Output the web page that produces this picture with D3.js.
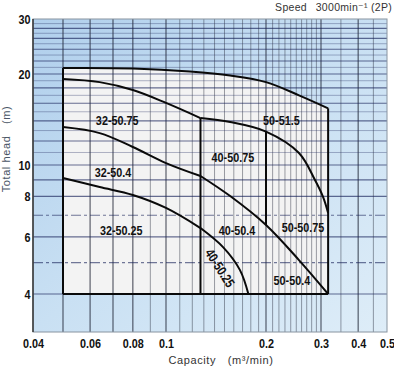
<!DOCTYPE html>
<html><head><meta charset="utf-8">
<script src="https://cdn.jsdelivr.net/npm/d3@7"></script>
<style>
html,body{margin:0;padding:0;background:#fff;}
svg{display:block;}
</style></head>
<body>
<svg id="c" width="394" height="369"></svg>
<script>
// ---- data ----
const xTicks = [0.04, 0.06, 0.08, 0.1, 0.2, 0.3, 0.4, 0.5];
const xTickLabels = ["0.04", "0.06", "0.08", "0.1", "0.2", "0.3", "0.4", "0.5"];
const yTicks = [4, 6, 8, 10, 20, 30];
const xGridMajor = [0.05, 0.06, 0.07, 0.08, 0.1, 0.2, 0.3, 0.4];
const xGridMinor = [0.09, 0.11, 0.12, 0.13, 0.14, 0.15, 0.16, 0.17, 0.18, 0.19,
                    0.21, 0.22, 0.23, 0.24, 0.25, 0.26, 0.27, 0.28, 0.29, 0.35, 0.45];
const yGridSolid = [4, 6, 8, 9, 10, 12, 14, 16, 18, 20, 22, 24, 26, 28];
const yGridLight = [11, 13, 15, 17, 19, 21, 23, 25, 27, 29];
const yGridDashed = [5, 7];

// envelope (50-51.5 top)
const envQ = [0.05, 0.08, 0.118, 0.156, 0.2, 0.255, 0.317];
const envH = [20.9, 20.83, 20.37, 19.77, 18.8, 17.0, 15.4];
// 32-50.75
const c3275Q = [0.05, 0.064, 0.08, 0.1, 0.127];
const c3275H = [19.25, 18.8, 17.7, 16.05, 14.3];
// 40/50-50.75 top
const c4075Q = [0.127, 0.156, 0.2, 0.255, 0.287, 0.305, 0.317];
const c4075H = [14.3, 13.87, 12.9, 10.96, 8.99, 7.96, 7.11];
// 32-50.4
const c324Q = [0.05, 0.064, 0.08, 0.1, 0.127];
const c324H = [13.35, 12.75, 11.47, 10.15, 9.25];
// 40/50-50.4
const c404Q = [0.127, 0.156, 0.2, 0.255, 0.317];
const c404H = [9.25, 8.02, 6.53, 5.09, 4.0];
// 32-50.25
const c3225Q = [0.05, 0.064, 0.08, 0.1, 0.127];
const c3225H = [9.12, 8.55, 8.08, 7.37, 6.39];
// 40-50.25
const c4025Q = [0.127, 0.1485, 0.167, 0.177];
const c4025H = [6.39, 5.58, 4.74, 4.0];

const minHead = 4;
const bounds = [0.05, 0.127, 0.2, 0.317];
const midSplitH = [12.9, 6.53]; // vertical at 0.2 from/to

const labels = [
  {t: "32-50.75", q: 0.072, h: 14.1, r: 0},
  {t: "32-50.4",  q: 0.07,  h: 9.5,  r: 0},
  {t: "32-50.25", q: 0.074, h: 6.3,  r: 0},
  {t: "50-51.5",  q: 0.224, h: 14.1, r: 0},
  {t: "40-50.75", q: 0.159, h: 10.6, r: 0},
  {t: "40-50.4",  q: 0.1636, h: 6.3, r: 0},
  {t: "50-50.75", q: 0.2627, h: 6.44, r: 0},
  {t: "50-50.4",  q: 0.242, h: 4.41, r: 0},
  {t: "40-50.25", q: 0.1455, h: 4.81, r: 57}
];

// ---- scales ----
const x = d3.scaleLog()
  .domain([0.04, 0.05, 0.1, 0.2, 0.3, 0.5])
  .range([33, 63, 166, 266, 321, 387]);
const y = d3.scaleLog()
  .domain([3, 4, 10, 20, 30])
  .range([332, 294, 165, 74, 19]);

const svg = d3.select("#c");
const X0 = x(0.04), X1 = x(0.5), Y0 = y(30), Y1 = y(3);

const defs = svg.append("defs");
const g = defs.append("linearGradient").attr("id","bg")
  .attr("x1","0").attr("y1","0").attr("x2","1").attr("y2","1");
g.append("stop").attr("offset","0").attr("stop-color","#b0cfec");
g.append("stop").attr("offset","0.5").attr("stop-color","#c9e0f3");
g.append("stop").attr("offset","1").attr("stop-color","#deedf8");

svg.append("rect").attr("x",X0).attr("y",Y0).attr("width",X1-X0).attr("height",Y1-Y0)
  .attr("fill","url(#bg)");

const line = d3.line().x(d=>x(d[0])).y(d=>y(d[1])).curve(d3.curveCatmullRom.alpha(0.5));

// region fill
const envPts = envQ.map((q,i)=>[q, envH[i]]);
svg.append("path")
  .attr("d", line(envPts)
     + "L" + x(bounds[3]) + "," + y(minHead) + "L" + x(bounds[0]) + "," + y(minHead) + "Z")
  .attr("fill","#f3f3f3");

// grid
const grid = svg.append("g");
grid.selectAll(".vm").data(xGridMajor).join("line")
  .attr("x1",d=>x(d)).attr("x2",d=>x(d)).attr("y1",Y0).attr("y2",Y1)
  .attr("stroke","rgba(25,30,45,0.7)").attr("stroke-width",1.2);
grid.selectAll(".vn").data(xGridMinor).join("line")
  .attr("x1",d=>x(d)).attr("x2",d=>x(d)).attr("y1",Y0).attr("y2",Y1)
  .attr("stroke","rgba(40,45,60,0.45)").attr("stroke-width",1);
grid.selectAll(".hs").data(yGridSolid).join("line")
  .attr("x1",X0).attr("x2",X1).attr("y1",d=>y(d)).attr("y2",d=>y(d))
  .attr("stroke","rgba(25,35,90,0.65)").attr("stroke-width",1.1);
grid.selectAll(".hl").data(yGridLight).join("line")
  .attr("x1",X0).attr("x2",X1).attr("y1",d=>y(d)).attr("y2",d=>y(d))
  .attr("stroke","rgba(40,50,100,0.35)").attr("stroke-width",1);
grid.selectAll(".hd").data(yGridDashed).join("line")
  .attr("x1",X0).attr("x2",X1).attr("y1",d=>y(d)).attr("y2",d=>y(d))
  .attr("stroke","rgba(25,35,90,0.6)").attr("stroke-width",1.1)
  .attr("stroke-dasharray","10,3,3,3");

// frame
svg.append("rect").attr("x",X0).attr("y",Y0).attr("width",X1-X0).attr("height",Y1-Y0)
  .attr("fill","none").attr("stroke","#8894a0").attr("stroke-width",1);
svg.append("line").attr("x1",X0).attr("x2",X0).attr("y1",Y0).attr("y2",Y1)
  .attr("stroke","#333").attr("stroke-width",1.5);

// curves
const curves = [
  [envQ, envH], [c3275Q, c3275H], [c4075Q, c4075H], [c324Q, c324H],
  [c404Q, c404H], [c3225Q, c3225H], [c4025Q, c4025H]
];
const cg = svg.append("g").attr("fill","none").attr("stroke","#0a0a0a")
  .attr("stroke-width",2).attr("stroke-linejoin","round");
curves.forEach(([qs,hs]) => {
  cg.append("path").attr("d", line(qs.map((q,i)=>[q,hs[i]])));
});
// boundaries
const segs = [
  [[bounds[0], minHead],[bounds[0], envH[0]]],
  [[bounds[1], minHead],[bounds[1], c3275H[c3275H.length-1]]],
  [[bounds[2], midSplitH[0]],[bounds[2], midSplitH[1]]],
  [[bounds[3], minHead],[bounds[3], envH[envH.length-1]]],
  [[bounds[0], minHead],[bounds[3], minHead]]
];
segs.forEach(s => {
  cg.append("line").attr("x1",x(s[0][0])).attr("y1",y(s[0][1]))
    .attr("x2",x(s[1][0])).attr("y2",y(s[1][1]));
});

// region labels
const labelFont = "'Liberation Sans','Arial',sans-serif";
const SX = 0.8;
svg.append("g").selectAll("text").data(labels).join("text")
  .attr("transform", d=>`translate(${x(d.q)},${y(d.h)}) rotate(${d.r}) scale(${SX},1)`)
  .attr("text-anchor","middle").attr("dy","0.36em")
  .attr("font-family",labelFont).attr("font-weight","bold").attr("font-size",13.5)
  .attr("fill","#111").text(d=>d.t);

// axes
const xa = svg.append("g").attr("transform",`translate(0,${Y1})`)
  .call(d3.axisBottom(x).tickValues(xTicks).tickSize(0).tickPadding(6)
        .tickFormat((d,i)=>xTickLabels[i]));
xa.select(".domain").remove();
xa.selectAll("text").attr("font-family",labelFont).attr("font-weight","bold")
  .attr("font-size",13.5).attr("fill","#111").attr("transform",`scale(${SX},1)`);

const ya = svg.append("g").attr("transform",`translate(${X0},0)`)
  .call(d3.axisLeft(y).tickValues(yTicks).tickSize(0).tickPadding(3).tickFormat(d3.format("d")));
ya.select(".domain").remove();
ya.selectAll("text").attr("font-family",labelFont).attr("font-weight","bold")
  .attr("font-size",13.5).attr("fill","#111").attr("transform",`scale(${SX},1)`);

// titles
const titleFont = "'Liberation Sans','DejaVu Sans',sans-serif";
svg.append("text").attr("x",221).attr("y",364).attr("text-anchor","middle")
  .attr("font-family",titleFont).attr("font-size",11).attr("fill","#333")
  .attr("letter-spacing",0.6)
  .text("Capacity\u2003(m\u00B3/min)");
svg.append("text").attr("transform","translate(10,149) rotate(-90)").attr("text-anchor","middle")
  .attr("font-family",titleFont).attr("font-size",11).attr("fill","#4a5566")
  .attr("letter-spacing",0.6)
  .text("Total head\u2003(m)");
svg.append("text").attr("x",392).attr("y",11).attr("text-anchor","end")
  .attr("font-family",titleFont).attr("font-size",10.5).attr("fill","#333")
  .attr("letter-spacing",0.3)
  .text("Speed\u2002 3000min\u207B\u00B9 (2P)");
</script>
</body></html>
